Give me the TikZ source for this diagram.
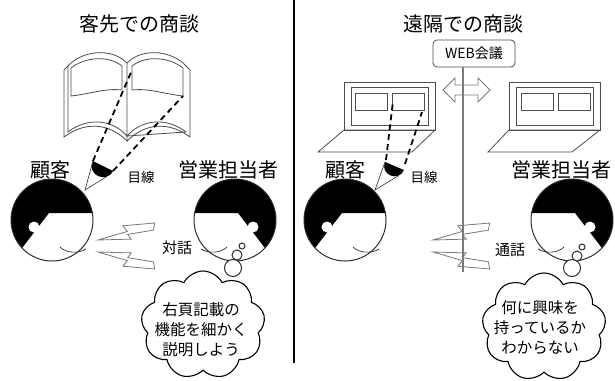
\documentclass[tikz,border=0pt]{standalone}
\usepackage{fontspec}
\setmainfont{Noto Sans CJK JP}
\usetikzlibrary{shapes.symbols}

\definecolor{ink}{HTML}{2E2E2E}
\definecolor{pen}{HTML}{4D4D4D}
\definecolor{boltline}{HTML}{7A7A7A}

\tikzset{
  heading/.style={font=\fontsize{20}{24}\selectfont, inner sep=0pt},
  who/.style={font=\fontsize{20}{24}\selectfont, inner sep=0pt},
  tag/.style={font=\fontsize{15}{18}\selectfont, inner sep=0pt},
  eyetag/.style={font=\fontsize{13.5}{16}\selectfont, inner sep=0pt},
  saying/.style={font=\fontsize{15.5}{20}\selectfont, align=center, inner sep=0pt},
  outline/.style={draw=pen, line width=0.8pt},
  sight/.style={draw=black, line width=1.8pt, dash pattern=on 6pt off 4pt},
  cone/.style={draw=ink, line width=0.6pt},
  puff/.style={draw=ink, fill=white, line width=1pt},
  pole/.style={draw=boltline, line width=1.2pt},
  thought/.style={cloud, cloud puffs=9, cloud puff arc=125, cloud ignores aspect,
    draw=black, fill=white, line width=1.1pt,
    minimum width=124pt, minimum height=108pt, inner sep=0pt},
  boltshape/.style={draw=boltline, fill=white, line width=0.8pt, line join=miter},
  head/.pic={
    \begin{scope}
      \clip (0,0) circle[radius=41];
      \fill[black] (-45,-45) -- (45,-45) -- (45,-7) -- (-3,-7) -- (-33,32) -- (-45,48) -- cycle;
      \fill[white] (-18,7) circle[radius=5.5];
    \end{scope}
    \draw[ink, line width=1pt] (0,0) circle[radius=41];
    \draw[ink, line width=0.7pt] (8,27) .. controls (14,33) and (26,34) .. (34,29);
  },
  bolt/.pic={
    \draw[boltshape] (0,0) -- (30,-6) -- (26,-12) -- (58,-12) -- (56,-5)
      -- (30,-3) -- (33,2) -- cycle;
  },
}

\begin{document}
\begin{tikzpicture}[x=1pt,y=-1pt]
  \useasboundingbox (0,0) rectangle (615,380);
  \fill[white] (0,0) rectangle (615,380);

  % panel divider
  \coordinate (divTop) at (294,0);
  \coordinate (divFoot) at (294,363);
  \draw[black, line width=1.5pt] (divTop) -- (divFoot);

  % ---------------- left panel: meeting at the customer's office
  \node[heading] (titleL) at (139,24) {客先での商談};

  % open brochure: page stacks
  \draw[outline] (68,66) -- (64,70) -- (64,137)
    .. controls (84,122) and (108,122) .. (127,141) -- (127,136);
  \draw[outline] (186,66) -- (190,70) -- (190,137)
    .. controls (170,122) and (146,122) .. (127,141);
  % open brochure: top sheets
  \draw[outline] (68,66) .. controls (80,52) and (110,46) .. (127,63) -- (127,136)
    .. controls (111,118) and (86,118) .. (68,132) -- cycle;
  \draw[outline] (186,66) .. controls (174,52) and (144,46) .. (127,63)
    (127,136) .. controls (143,118) and (168,118) .. (186,132) -- cycle;
  % pictures printed on the pages
  \draw[outline] (71,68) .. controls (85,57) and (108,55) .. (122,66) -- (122,90)
    .. controls (105,88) and (90,94) .. (71,96) -- cycle;
  \draw[outline] (183,68) .. controls (169,57) and (146,55) .. (132,66) -- (132,90)
    .. controls (149,88) and (164,94) .. (183,96) -- cycle;
  \coordinate (pageSpotA) at (132,70);
  \coordinate (pageSpotB) at (183,96);

  % customer's eye and line of sight
  \coordinate (eyeLa) at (93,161);
  \coordinate (eyeLb) at (113,171);
  \coordinate (eyeLapex) at (85,190);
  \draw[sight] (eyeLa) -- (pageSpotA);
  \draw[sight] (eyeLb) -- (pageSpotB);
  \fill[black] (eyeLa) .. controls (86.3,174.3) and (106.3,184.3) .. (eyeLb) -- cycle;
  \draw[cone] (eyeLa) -- (eyeLapex) -- (106,177);
  \node[eyetag] (gazeL) at (141,177) {目線};

  % people
  \node[who] (custL) at (50,170) {顧客};
  \node[who] (repL) at (228,170) {営業担当者};
  \pic at (52,220) {head};
  \pic[xscale=-1] at (235,220) {head};

  % conversation
  \pic[rotate=5] at (98,240) {bolt};
  \pic[yscale=-1, rotate=5] at (98,252) {bolt};
  \node[tag] (talkL) at (177,248) {対話};

  % thought of the sales rep
  \node[thought] (cloudL) at (203,325) {};
  \draw[puff] (233,268) circle[radius=8.5];
  \draw[puff] (237,255) circle[radius=5];
  \draw[puff] (242,246) circle[radius=3];
  \node[saying] (sayL) at (201,330) {右頁記載の\\機能を細かく\\説明しよう};

  % ---------------- right panel: remote meeting
  \node[heading] (titleR) at (463,24) {遠隔での商談};
  \node[draw=pen, line width=0.8pt, rounded corners=4pt, minimum width=82pt,
        minimum height=27pt, inner sep=0pt, font=\fontsize{14}{16}\selectfont]
        (web) at (474,53.5) {WEB会議};

  % customer's laptop
  \draw[outline] (344,82) rectangle (435,130);
  \draw[outline] (351,87) rectangle (428,125);
  \draw[outline] (355,93) rectangle (387,110);
  \draw[outline] (392,93) rectangle (424,110);
  \draw[outline] (344,130) -- (435,130) -- (412,152) -- (318,152) -- cycle;
  % sales rep's laptop
  \draw[outline] (509,82) rectangle (600,130);
  \draw[outline] (516,87) rectangle (593,125);
  \draw[outline] (521,93) rectangle (553,110);
  \draw[outline] (558,93) rectangle (590,110);
  \draw[outline] (509,130) -- (600,130) -- (572,152) -- (488,152) -- cycle;

  % two-way link
  \draw[outline, draw=boltline, fill=white] (443,90) -- (455,78) -- (455,85) -- (478,85)
    -- (478,78) -- (490,90) -- (478,102) -- (478,95) -- (455,95) -- (455,102) -- cycle;

  % customer's eye on the screen
  \coordinate (scrSpotA) at (393,101);
  \coordinate (scrSpotB) at (422,112);
  \coordinate (eyeRa) at (385,162);
  \coordinate (eyeRb) at (404,170);
  \coordinate (eyeRapex) at (375,190);
  \draw[sight] (386,160) -- (scrSpotA);
  \draw[sight] (405,164) -- (scrSpotB);
  \fill[black] (eyeRa) .. controls (379.7,174.6) and (398.7,182.6) .. (eyeRb) -- cycle;
  \draw[cone] (eyeRa) -- (eyeRapex) -- (398,176);
  \node[eyetag] (gazeR) at (424,177) {目線};

  % people
  \node[who] (custR) at (345,170) {顧客};
  \node[who] (repR) at (561,170) {営業担当者};
  \pic at (345,220) {head};
  \pic[xscale=-1] at (572,220) {head};

  % call
  \pic[rotate=5] at (433,240) {bolt};
  \pic[yscale=-1, rotate=5] at (433,252) {bolt};
  \node[tag] (talkR) at (510,250) {通話};
  \coordinate (poleFoot) at (463,272);
  \draw[pole] (web.south -| poleFoot) -- (poleFoot);

  % thought of the sales rep
  \node[thought] (cloudR) at (544,327) {};
  \draw[puff] (572,268) circle[radius=8.5];
  \draw[puff] (577,256) circle[radius=5];
  \draw[puff] (582,247) circle[radius=3];
  \node[saying] (sayR) at (540,328) {何に興味を\\持っているか\\わからない};
\end{tikzpicture}
\end{document}
